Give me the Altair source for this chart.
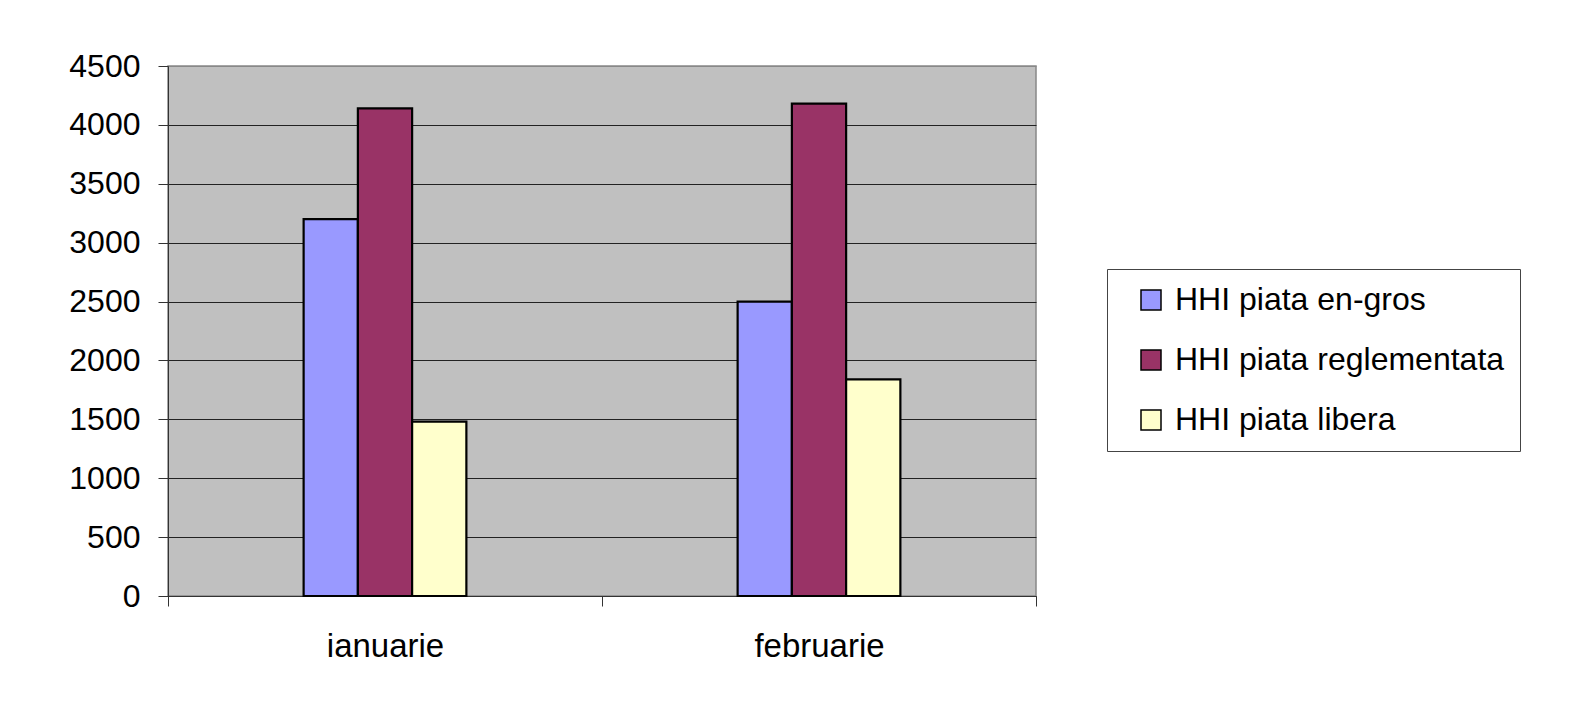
import altair as alt
import pandas as pd

months = ["ianuarie", "februarie"]
series = ["HHI piata en-gros", "HHI piata reglementata", "HHI piata libera"]
values = {
    "HHI piata en-gros": [3200, 2500],
    "HHI piata reglementata": [4140, 4180],
    "HHI piata libera": [1480, 1840],
}
colors = ["#9999FF", "#993366", "#FFFFCC"]
y_ticks = [0, 500, 1000, 1500, 2000, 2500, 3000, 3500, 4000, 4500]

rows = []
for s in series:
    for m, v in zip(months, values[s]):
        rows.append({"month": m, "series": s, "value": v})
df = pd.DataFrame(rows)

# empty slots around the group so the bars sit narrow in the centre of each month
offset_domain = ["_pad1", "_pad2"] + series + ["_pad3", "_pad4"]

FONT = "Liberation Sans"

bars = alt.Chart(df).mark_bar(stroke="black", strokeWidth=2.2).encode(
    x=alt.X("month:N", sort=months, title=None,
            scale=alt.Scale(paddingInner=0, paddingOuter=0),
            axis=alt.Axis(labelAngle=0, tickBand="extent", tickSize=10,
                          labelPadding=24, labelFontSize=33, labelFont=FONT,
                          labelColor="black", domainColor="#333", tickColor="#333",
                          grid=False)),
    xOffset=alt.XOffset("series:N",
                        scale=alt.Scale(domain=offset_domain, paddingInner=0, paddingOuter=0.5)),
    y=alt.Y("value:Q", title=None,
            scale=alt.Scale(domain=[0, 4500], nice=False),
            axis=alt.Axis(values=y_ticks, format="d", tickSize=10, labelPadding=18,
                          labelFontSize=32, labelFont=FONT, labelColor="black",
                          domainColor="#333", tickColor="#333",
                          grid=True,
                          gridColor={"condition": {"test": "datum.value === 4500", "value": "#888888"},
                                     "value": "#222222"},
                          gridWidth=1)),
    color=alt.Color("series:N", sort=series,
                    scale=alt.Scale(domain=series, range=colors),
                    legend=alt.Legend(title=None, orient="none", legendX=939, legendY=203,
                                      symbolType="square", symbolSize=400,
                                      symbolStrokeColor="black", symbolStrokeWidth=1.5,
                                      symbolOffset=13, labelOffset=8,
                                      labelFontSize=32, labelFont=FONT, labelColor="black",
                                      labelLimit=600,
                                      rowPadding=28, padding=15,
                                      strokeColor="#444", fillColor="white")),
)

chart = bars.properties(
    width=868, height=530,
    autosize=alt.AutoSizeParams(type="none"),
    padding={"left": 160, "top": 58, "right": 540, "bottom": 80},
    background="white",
).configure_view(fill="#C0C0C0", stroke="#888888", strokeWidth=1.5)

chart.save("out.html", embed_options={"renderer": "svg", "actions": False})
